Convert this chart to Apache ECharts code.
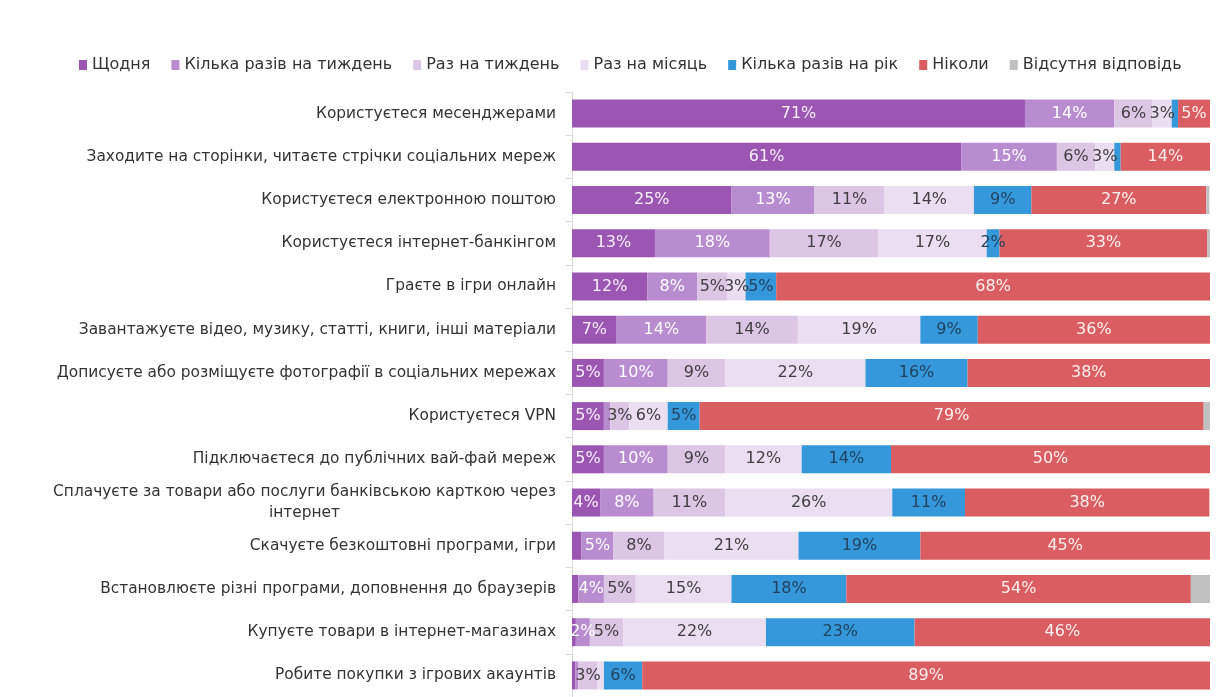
<!DOCTYPE html>
<html>
<head>
<meta charset="utf-8">
<script src="https://cdn.jsdelivr.net/npm/echarts@6/dist/echarts.min.js"></script>
<style>
  html, body { margin: 0; padding: 0; background: #fff; }
  #chart { width: 1223px; height: 697px; }
</style>
</head>
<body>
<div id="chart"></div>
<script>
// категорії (зверху вниз)
const categories = [
  'Користуєтеся месенджерами',
  'Заходите на сторінки, читаєте стрічки соціальних мереж',
  'Користуєтеся електронною поштою',
  'Користуєтеся інтернет-банкінгом',
  'Граєте в ігри онлайн',
  'Завантажуєте відео, музику, статті, книги, інші матеріали',
  'Дописуєте або розміщуєте фотографії в соціальних мережах',
  'Користуєтеся VPN',
  'Підключаєтеся до публічних вай-фай мереж',
  'Сплачуєте за товари або послуги банківською карткою через інтернет',
  'Скачуєте безкоштовні програми, ігри',
  'Встановлюєте різні програми, доповнення до браузерів',
  'Купуєте товари в інтернет-магазинах',
  'Робите покупки з ігрових акаунтів'
]

// частки, % (підписи округлені)
const daily     = [71, 61, 25, 13, 11.8, 7, 5, 5, 5, 4.4, 1.5, 1, 0.6, 0.5]
const fewWeek   = [14, 15, 13, 18, 7.8, 14, 10, 1, 10, 8.4, 5, 4, 2.2, 0.5]
const onceWeek  = [6, 6, 11, 17, 4.8, 14.4, 9, 3, 9, 11.2, 8, 5, 5.2, 3]
const onceMonth = [3, 3, 14, 17, 2.8, 19.2, 22, 6, 12, 26.2, 21, 15, 22.4, 1]
const fewYear   = [1, 1, 9, 2, 4.8, 9, 16, 5, 14, 11.4, 19.1, 18, 23.3, 6]
const never     = [5, 14, 27.4, 32.6, 68, 36.4, 38, 79, 50, 38.3, 45.4, 54, 46.3, 89]
const noAnswer  = [0, 0, 0.5, 0.5, 0, 0, 0, 1, 0, 0, 0, 3, 0, 0]

const seriesDefs = [
  { name: 'Щодня', data: daily, color: '#9b56b4', text: '#f6eefa' },
  { name: 'Кілька разів на тиждень', data: fewWeek, color: '#b98bcf', text: '#ffffff' },
  { name: 'Раз на тиждень', data: onceWeek, color: '#dcc6e6', text: '#404040' },
  { name: 'Раз на місяць', data: onceMonth, color: '#ebdef0', text: '#404040' },
  { name: 'Кілька разів на рік', data: fewYear, color: '#3498db', text: '#24435f' },
  { name: 'Ніколи', data: never, color: '#d95d61', text: '#fdf0f0' },
  { name: 'Відсутня відповідь', data: noAnswer, color: '#c0c0c0', text: '#404040', noLabel: true }
]

const FONT = 'DejaVu Sans'

const chart = echarts.init(document.getElementById('chart'))

chart.setOption({
  animation: false,
  textStyle: { fontFamily: FONT },
  legend: {
    top: 52,
    left: 74,
    itemWidth: 8,
    itemHeight: 10,
    itemGap: 21,
    icon: 'rect',
    textStyle: { fontSize: 16, color: '#333', fontFamily: FONT },
    data: seriesDefs.map(s => s.name)
  },
  grid: { left: 572, right: 13, top: 92, height: 607, containLabel: false },
  xAxis: { type: 'value', min: 0, max: 100, show: false },
  yAxis: {
    type: 'category',
    inverse: true,
    data: categories,
    axisLine: { lineStyle: { color: '#d9d9d9' } },
    axisTick: { show: true, length: 6, lineStyle: { color: '#d9d9d9' } },
    axisLabel: {
      margin: 16,
      formatter: v => {
        if (v.length > 60) {
          const i = v.lastIndexOf(' ')
          return '{a|' + v.slice(0, i) + '}\n{c|' + v.slice(i + 1) + '}'
        }
        return '{a|' + v + '}'
      },
      rich: {
        a: { fontSize: 15.4, color: '#333', fontFamily: FONT, lineHeight: 21 },
        c: { fontSize: 15.4, color: '#333', fontFamily: FONT, lineHeight: 21, align: 'center' }
      }
    }
  },
  series: seriesDefs.map(s => ({
    name: s.name,
    type: 'bar',
    stack: 'total',
    barWidth: 28,
    data: s.data,
    itemStyle: { color: s.color },
    label: {
      show: !s.noLabel,
      position: 'inside',
      fontSize: 16,
      fontFamily: FONT,
      color: s.text,
      formatter: p => (p.value >= 2 ? Math.round(p.value) + '%' : '')
    }
  }))
})
</script>
</body>
</html>
